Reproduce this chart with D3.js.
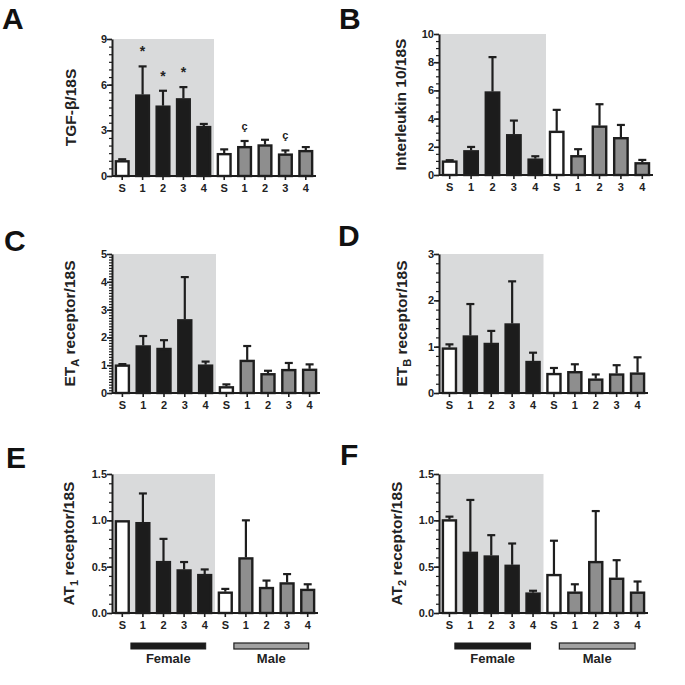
<!DOCTYPE html>
<html>
<head>
<meta charset="utf-8">
<script src="https://cdn.jsdelivr.net/npm/d3@7"></script>
<style>
html,body{margin:0;padding:0;background:#fff;}
svg{display:block;}
text{font-family:"Liberation Sans",Arial,sans-serif;font-weight:bold;fill:#222;}
.letter{font-family:"Liberation Sans",Arial,sans-serif;font-weight:700;font-size:30px;fill:#111;}
</style>
</head>
<body>
<svg id="chart" width="685" height="685"></svg>
<script>
// ---- data ----
const categories = ["S","1","2","3","4","S","1","2","3","4"];
const groups = ["sham","female","female","female","female","sham","male","male","male","male"];

const tgfMean = [1.03,5.35,4.62,5.1,3.28,1.5,1.96,2.07,1.47,1.7];
const tgfSem  = [0.07,1.85,0.98,0.74,0.14,0.25,0.34,0.31,0.21,0.2];
const tgfMarks = ["","*","*","*","","","ç","","ç",""];

const il10Mean = [1.02,1.75,5.92,2.89,1.16,3.13,1.4,3.5,2.68,0.9];
const il10Sem  = [0.03,0.24,2.44,0.97,0.17,1.49,0.43,1.52,0.87,0.17];

const etaMean = [1.02,1.71,1.62,2.65,1.02,0.24,1.19,0.71,0.86,0.87];
const etaSem  = [0.02,0.34,0.28,1.52,0.11,0.07,0.5,0.09,0.22,0.16];

const etbMean = [0.98,1.24,1.08,1.5,0.69,0.43,0.47,0.31,0.42,0.44];
const etbSem  = [0.07,0.68,0.26,0.91,0.18,0.11,0.15,0.09,0.18,0.33];

const at1Mean = [1.0,0.98,0.56,0.47,0.42,0.23,0.6,0.28,0.33,0.26];
const at1Sem  = [0.0,0.31,0.24,0.08,0.05,0.03,0.4,0.07,0.09,0.05];

const at2Mean = [1.01,0.66,0.62,0.52,0.22,0.42,0.23,0.56,0.38,0.23];
const at2Sem  = [0.03,0.56,0.22,0.23,0.02,0.36,0.08,0.54,0.19,0.11];

const legendLabels = ["Female","Male"];

// ---- layout ----
const panels = [
  {letter:"A", lx:2, ly:29, x0:112, x1:316, yTop:39, yBot:176, max:9, major:3, minor:0.5, fmt:"d",
   label:[{t:"TGF-β/18S"}], labX:76, mean:tgfMean, sem:tgfSem, marks:tgfMarks},
  {letter:"B", lx:339, ly:29, x0:439, x1:653, yTop:34, yBot:175, max:10, major:2, minor:0.5, fmt:"d",
   label:[{t:"Interleukin 10/18S"}], labX:406, mean:il10Mean, sem:il10Sem},
  {letter:"C", lx:4, ly:251, x0:112, x1:320, yTop:254, yBot:393, max:5, major:1, minor:0.1, fmt:"d",
   label:[{t:"ET"},{t:"A",sub:true},{t:" receptor/18S"}], labX:75, mean:etaMean, sem:etaSem},
  {letter:"D", lx:338, ly:246, x0:439, x1:648, yTop:254, yBot:393, max:3, major:1, minor:0.2, fmt:"d",
   label:[{t:"ET"},{t:"B",sub:true},{t:" receptor/18S"}], labX:407, mean:etbMean, sem:etbSem},
  {letter:"E", lx:6, ly:468, x0:112, x1:318, yTop:474, yBot:613, max:1.5, major:0.5, minor:0.1, fmt:".1f",
   label:[{t:"AT"},{t:"1",sub:true},{t:" receptor/18S"}], labX:74, mean:at1Mean, sem:at1Sem,
   legend:true, legendShift:-5.5},
  {letter:"F", lx:340, ly:465, x0:439, x1:648, yTop:474, yBot:613, max:1.5, major:0.5, minor:0.1, fmt:".1f",
   label:[{t:"AT"},{t:"2",sub:true},{t:" receptor/18S"}], labX:402, mean:at2Mean, sem:at2Sem,
   legend:true, legendShift:-9}
];

const fillFor = {sham:"#ffffff", female:"#1c1c1c", male:"#8e8e8e"};
const dark = "#1e1e1e";
const svg = d3.select("#chart");

panels.forEach(p => {
  const g = svg.append("g");
  const idx = d3.range(categories.length);
  const x = d3.scaleBand().domain(idx).range([p.x0, p.x1]).paddingInner(0.26).paddingOuter(0.13);
  const y = d3.scaleLinear().domain([0, p.max]).range([p.yBot, p.yTop]);
  const step = x.step();
  const cx = i => x(i) + x.bandwidth()/2;

  // letter
  g.append("text").attr("class","letter").attr("x",p.lx).attr("y",p.ly).text(p.letter);

  // shading behind female group
  const shadeEnd = x(4) + x.bandwidth() + (step - x.bandwidth())/2;
  g.append("rect").attr("x",p.x0).attr("y",p.yTop).attr("width",shadeEnd-p.x0).attr("height",p.yBot-p.yTop)
    .attr("fill","#d9dadb");

  // bars
  const data = idx.map(i => ({i, cat:categories[i], grp:groups[i], m:p.mean[i], s:p.sem[i]}));
  g.selectAll("rect.bar").data(data).enter().append("rect").attr("class","bar")
    .attr("x", d => x(d.i)+1.2).attr("width", x.bandwidth()-2.4)
    .attr("y", d => y(d.m)+1).attr("height", d => Math.max(0, y(0)-y(d.m)-1))
    .attr("fill", d => fillFor[d.grp]).attr("stroke", dark).attr("stroke-width", 2.4);

  // error bars (upper)
  const eb = g.selectAll("g.eb").data(data.filter(d => d.s > 0)).enter().append("g");
  eb.append("line").attr("x1", d => cx(d.i)).attr("x2", d => cx(d.i))
    .attr("y1", d => y(d.m)).attr("y2", d => y(d.m+d.s)).attr("stroke", dark).attr("stroke-width", 2.2);
  eb.append("line").attr("x1", d => cx(d.i)-4).attr("x2", d => cx(d.i)+4)
    .attr("y1", d => y(d.m+d.s)).attr("y2", d => y(d.m+d.s)).attr("stroke", dark).attr("stroke-width", 2.2);

  // significance marks
  if (p.marks) {
    g.selectAll("text.mark").data(data.filter(d => p.marks[d.i])).enter().append("text")
      .attr("x", d => cx(d.i))
      .attr("y", d => y(d.m+d.s) - (p.marks[d.i]==="*" ? 10 : 11))
      .attr("text-anchor","middle")
      .style("font-size", d => p.marks[d.i]==="*" ? "14px" : "11px")
      .text(d => p.marks[d.i]);
  }

  // y axis with minor ticks
  const minorTicks = d3.range(0, p.max + p.minor/2, p.minor);
  g.append("g").attr("transform", `translate(${p.x0},0)`)
    .call(d3.axisLeft(y).tickValues(minorTicks).tickSize(3).tickFormat(""))
    .call(a => a.select(".domain").remove())
    .call(a => a.selectAll("line").attr("stroke", dark).attr("stroke-width", 1.2));
  const yAxis = g.append("g").attr("transform", `translate(${p.x0},0)`)
    .call(d3.axisLeft(y).tickValues(d3.range(0, p.max + p.major/2, p.major)).tickSize(5).tickSizeOuter(0)
      .tickFormat(d3.format(p.fmt)));
  yAxis.select(".domain").attr("stroke", dark).attr("stroke-width", 2);
  yAxis.selectAll("line").attr("stroke", dark).attr("stroke-width", 1.6);
  yAxis.selectAll("text").style("font-size","11px").attr("fill","#333").attr("x",-5);

  // x axis
  const xAxis = g.append("g").attr("transform", `translate(0,${p.yBot})`)
    .call(d3.axisBottom(x).tickSize(4).tickSizeOuter(0).tickFormat(i => categories[i]));
  xAxis.select(".domain").attr("stroke", dark).attr("stroke-width", 2)
    .attr("d", `M${p.x0},0H${p.x1}`);
  xAxis.selectAll("line").attr("stroke", dark).attr("stroke-width", 1.6);
  xAxis.selectAll("text").style("font-size","11px").attr("fill","#333").attr("y",8);

  // y label
  const lab = g.append("text").attr("transform", `translate(${p.labX},${(p.yTop+p.yBot)/2}) rotate(-90)`)
    .attr("text-anchor","middle").style("font-size","15.5px").attr("fill","#222");
  p.label.forEach(s => {
    const t = lab.append("tspan").text(s.t);
    if (s.sub) { t.attr("dy", 4).style("font-size","11px"); }
    else if (lab.selectAll("tspan").size() > 1) { t.attr("dy", -4); }
  });

  // legend under bottom panels
  if (p.legend) {
    const ly = p.yBot + 30;
    const fx0 = cx(1) - 6.5 + p.legendShift, fx1 = cx(4) + 6.5 + p.legendShift;
    const mx0 = cx(6) - 6.5 + p.legendShift, mx1 = cx(9) + 6.5 + p.legendShift;
    g.append("rect").attr("x",fx0).attr("y",ly).attr("width",fx1-fx0).attr("height",6)
      .attr("fill",fillFor.female).attr("stroke",dark).attr("stroke-width",1);
    g.append("rect").attr("x",mx0).attr("y",ly).attr("width",mx1-mx0).attr("height",6)
      .attr("fill","#a2a2a2").attr("stroke",dark).attr("stroke-width",1.2);
    g.append("text").attr("x",(fx0+fx1)/2).attr("y",ly+20).attr("text-anchor","middle")
      .style("font-size","13px").text(legendLabels[0]);
    g.append("text").attr("x",(mx0+mx1)/2).attr("y",ly+20).attr("text-anchor","middle")
      .style("font-size","13px").text(legendLabels[1]);
  }
});
</script>
</body>
</html>
